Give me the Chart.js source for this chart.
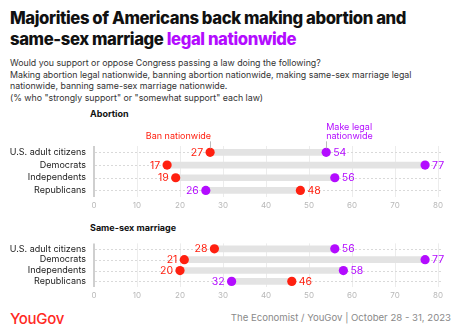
<!DOCTYPE html>
<html>
<head>
<meta charset="utf-8">
<script src="https://cdn.jsdelivr.net/npm/chart.js@4"></script>
<style>
  html, body { margin: 0; padding: 0; background: #fff; }
  body { width: 460px; height: 336px; position: relative; overflow: hidden; font-family: Inter, "Open Sans", sans-serif; }
  .title { position: absolute; left: 10px; top: 8px; font-size: 16.7px; line-height: 21px; font-weight: 800; color: #111; letter-spacing: -0.4px; white-space: nowrap; }
  .title span { color: #b30cff; }
  .sub { position: absolute; left: 10px; top: 57px; font-size: 8.8px; line-height: 11.5px; color: #333; white-space: nowrap; }
  .panel-title { position: absolute; left: 90px; font-size: 9px; font-weight: 700; color: #111; }
  .box { position: absolute; left: 0; width: 460px; }
  .logo { position: absolute; left: 10px; top: 309px; font-size: 15px; color: #ff2a1f; font-weight: 500; letter-spacing: -0.3px; }
  .source { position: absolute; right: 9px; top: 312px; font-size: 9.6px; color: #8a8a8a; }
</style>
</head>
<body>
<div class="title">Majorities of Americans back making abortion and<br>same-sex marriage <span>legal nationwide</span></div>
<div class="sub">Would you support or oppose Congress passing a law doing the following?<br>Making abortion legal nationwide, banning abortion nationwide, making same-sex marriage legal<br>nationwide, banning same-sex marriage nationwide.<br>(% who "strongly support" or "somewhat support" each law)</div>

<div class="panel-title" style="top:108px">Abortion</div>
<div class="box" style="top:120px;height:94px"><canvas id="c1"></canvas></div>

<div class="panel-title" style="top:222px">Same-sex marriage</div>
<div class="box" style="top:230px;height:74px"><canvas id="c2"></canvas></div>

<div class="logo">YouGov</div>
<div class="source">The Economist / YouGov | October 28 - 31, 2023</div>

<script>
// Groups shown on each panel
const groups = ['U.S. adult citizens', 'Democrats', 'Independents', 'Republicans'];
const xTicks = [0, 10, 20, 30, 40, 50, 60, 70, 80];

// Abortion: % supporting a national ban / making it legal nationwide
const abortionBan = [27, 17, 19, 48];
const abortionLegal = [54, 77, 56, 26];

// Same-sex marriage: % supporting a national ban / making it legal nationwide
const marriageBan = [28, 21, 20, 46];
const marriageLegal = [56, 77, 58, 32];

const RED = '#ff2010';
const PURPLE = '#b30cff';
const FONT = 'Inter, "Open Sans", sans-serif';

// Row guides, value labels and the series captions
const dumbbellPlugin = {
  id: 'dumbbell',
  beforeDatasetsDraw(chart) {
    const { ctx, chartArea, scales } = chart;
    ctx.save();
    ctx.strokeStyle = '#d9d9d9';
    ctx.lineWidth = 1;
    ctx.setLineDash([2, 2]);
    groups.forEach((g, i) => {
      const y = Math.round(scales.y.getPixelForValue(i)) + 0.5;
      ctx.beginPath();
      ctx.moveTo(chartArea.left + 1, y);
      ctx.lineTo(chartArea.right + 5, y);
      ctx.stroke();
    });
    ctx.restore();
  },
  afterDatasetsDraw(chart, args, opts) {
    const { ctx, scales } = chart;
    const ban = chart.data.datasets[1].data;
    const legal = chart.data.datasets[2].data;
    ctx.save();
    ctx.font = '10.5px ' + FONT;
    ctx.textBaseline = 'middle';
    groups.forEach((g, i) => {
      const y = scales.y.getPixelForValue(i);
      const pts = [[ban[i], RED], [legal[i], PURPLE]].sort((a, b) => a[0] - b[0]);
      ctx.fillStyle = pts[0][1];
      ctx.textAlign = 'right';
      ctx.fillText(String(pts[0][0]), scales.x.getPixelForValue(pts[0][0]) - 7, y + 0.5);
      ctx.fillStyle = pts[1][1];
      ctx.textAlign = 'left';
      ctx.fillText(String(pts[1][0]), scales.x.getPixelForValue(pts[1][0]) + 7, y + 0.5);
    });
    if (opts.captions) {
      const y0 = scales.y.getPixelForValue(0);
      const xb = scales.x.getPixelForValue(ban[0]);
      const xl = scales.x.getPixelForValue(legal[0]);
      ctx.lineWidth = 1;
      ctx.strokeStyle = '#bbb';
      ctx.beginPath();
      ctx.moveTo(Math.round(xb) + 0.5, y0 - 11); ctx.lineTo(Math.round(xb) + 0.5, y0 - 4);
      ctx.moveTo(Math.round(xl) + 0.5, y0 - 11); ctx.lineTo(Math.round(xl) + 0.5, y0 - 4);
      ctx.stroke();
      ctx.font = '9px ' + FONT;
      ctx.fillStyle = RED;
      ctx.textAlign = 'right';
      ctx.fillText('Ban nationwide', xb + 1, y0 - 16);
      ctx.fillStyle = PURPLE;
      ctx.textAlign = 'left';
      ctx.fillText('Make legal', xl, y0 - 25);
      ctx.fillText('nationwide', xl, y0 - 16);
    }
    ctx.restore();
  }
};

function makeChart(id, ban, legal, padTop, captions) {
  const ranges = ban.map((b, i) => [Math.min(b, legal[i]), Math.max(b, legal[i])]);
  return new Chart(document.getElementById(id), {
    type: 'bar',
    data: {
      labels: groups,
      datasets: [
        { type: 'bar', data: ranges, backgroundColor: '#e3e3e3', barThickness: 6, borderSkipped: false, order: 3 },
        { type: 'line', label: 'Ban nationwide', data: ban, showLine: false, pointRadius: 4.6, pointHoverRadius: 4.6,
          pointBackgroundColor: RED, pointBorderWidth: 0, order: 1 },
        { type: 'line', label: 'Make legal nationwide', data: legal, showLine: false, pointRadius: 4.6, pointHoverRadius: 4.6,
          pointBackgroundColor: PURPLE, pointBorderWidth: 0, order: 2 }
      ]
    },
    options: {
      indexAxis: 'y',
      responsive: true,
      maintainAspectRatio: false,
      animation: false,
      events: [],
      layout: { padding: { top: padTop, bottom: 2, left: 0, right: 22 } },
      plugins: { legend: { display: false }, tooltip: { enabled: false }, dumbbell: { captions } },
      scales: {
        x: {
          type: 'linear', min: 0, max: 80,
          afterBuildTicks: s => { s.ticks = xTicks.map(v => ({ value: v })); },
          afterFit: s => { s.height = 15.2; },
          border: { display: false },
          grid: {
            drawTicks: false,
            color: c => c.tick && c.tick.value === 0 ? '#cfcfcf' : '#ececec',
            lineWidth: c => c.tick && c.tick.value === 0 ? 2 : 1
          },
          ticks: { padding: 4, color: '#b8b8b8', font: { family: FONT, size: 8 } }
        },
        y: {
          type: 'category',
          afterFit: s => { s.width = 94; },
          border: { display: false },
          grid: { display: false, drawTicks: false },
          ticks: { padding: 8, autoSkip: false, color: '#222', font: { family: FONT, size: 9 } }
        }
      }
    },
    plugins: [dumbbellPlugin]
  });
}

makeChart('c1', abortionBan, abortionLegal, 26, true);
makeChart('c2', marriageBan, marriageLegal, 6, false);
</script>
</body>
</html>
